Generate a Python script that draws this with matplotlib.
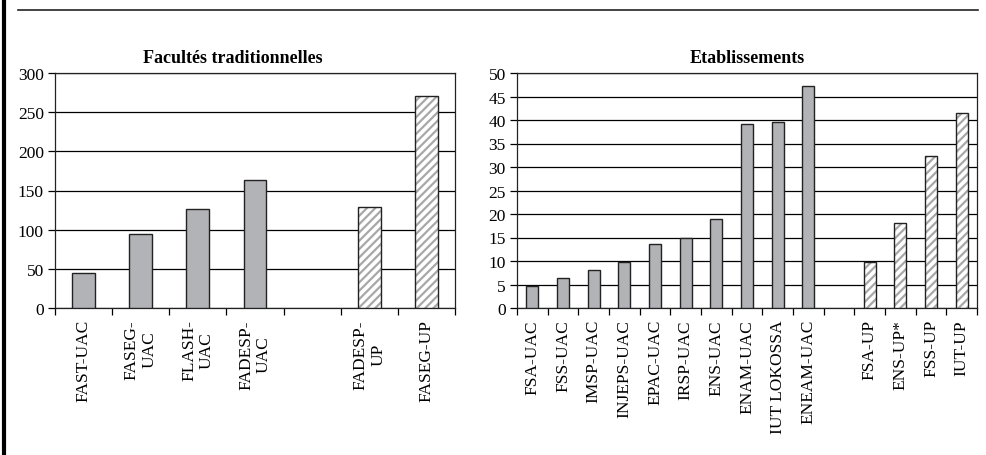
import numpy as np
import matplotlib
matplotlib.use('Agg')
import matplotlib.pyplot as plt
from matplotlib.ticker import FixedLocator

plt.rcParams['font.family'] = ['Liberation Serif', 'DejaVu Serif']
plt.rcParams['hatch.linewidth'] = 1.6

# data
fac_labels = ['FAST-UAC', 'FASEG-\nUAC', 'FLASH-\nUAC', 'FADESP-\nUAC', '', 'FADESP-\nUP', 'FASEG-UP']
fac_values = [45, 94, 127, 163, None, 129, 271]
fac_up = [False, False, False, False, False, True, True]

etab_labels = ['FSA-UAC', 'FSS-UAC', 'IMSP-UAC', 'INJEPS-UAC', 'EPAC-UAC', 'IRSP-UAC',
               'ENS-UAC', 'ENAM-UAC', 'IUT LOKOSSA', 'ENEAM-UAC', '',
               'FSA-UP', 'ENS-UP*', 'FSS-UP', 'IUT-UP']
etab_values = [4.6, 6.3, 8.0, 9.8, 13.7, 14.9, 18.9, 39.2, 39.5, 47.2, None,
               9.8, 18.0, 32.3, 41.5]
etab_up = [False] * 11 + [True] * 4

fig = plt.figure(figsize=(9.86, 4.56), dpi=100)

bar_gray = '#b2b3b7'
hatch_gray = '#a8a8a8'


def draw_panel(ax, labels, values, up, ymax, ystep, title, title_x=0.5):
    n = len(labels)
    x = np.arange(n)
    for xi, v, u in zip(x, values, up):
        if v is None:
            continue
        if u:
            ax.bar(xi, v, width=0.4, color='white', edgecolor=hatch_gray,
                   hatch='////', linewidth=0, zorder=3)
            ax.bar(xi, v, width=0.4, fill=False, edgecolor='#222222',
                   linewidth=1.0, zorder=4)
        else:
            ax.bar(xi, v, width=0.4, color=bar_gray, edgecolor='#222222',
                   linewidth=1.0, zorder=3)
    ax.set_xlim(-0.5, n - 0.5)
    ax.set_ylim(0, ymax)
    ax.set_yticks(np.arange(0, ymax + 0.1, ystep))
    ax.yaxis.grid(True, color='black', linewidth=0.9, zorder=1)
    ax.set_axisbelow(True)
    ax.set_xticks(x)
    ax.set_xticklabels(labels, rotation=90, va='top', ha='center',
                       fontsize=12.5, linespacing=1.15)
    ax.xaxis.set_minor_locator(FixedLocator(np.arange(-0.5, n, 1.0)))
    ax.tick_params(axis='x', which='major', length=0, pad=8)
    ax.tick_params(axis='x', which='minor', length=5, width=0.9, direction='out')
    ax.tick_params(axis='y', length=5, width=0.9, direction='out', labelsize=12.5, pad=3)
    for s in ax.spines.values():
        s.set_linewidth(0.9)
        s.set_color('#222222')
    ax.set_title(title, fontsize=13, fontweight='bold', pad=8, x=title_x)


ax1 = fig.add_axes([55 / 986, 1 - 309 / 456, 400 / 986, 235 / 456])
draw_panel(ax1, fac_labels, fac_values, fac_up, 300, 50, 'Facultés traditionnelles',
           title_x=0.445)

ax2 = fig.add_axes([517 / 986, 1 - 309 / 456, 460 / 986, 235 / 456])
draw_panel(ax2, etab_labels, etab_values, etab_up, 50, 5, 'Etablissements')

# page decoration: left border and top rule
fig.add_artist(plt.Line2D([4 / 986, 4 / 986], [0, 1], color='black', linewidth=3))
fig.add_artist(plt.Line2D([18 / 986, 978 / 986], [1 - 11 / 456, 1 - 11 / 456],
                          color='#222222', linewidth=1.2))

fig.savefig('out.png', dpi=100)
